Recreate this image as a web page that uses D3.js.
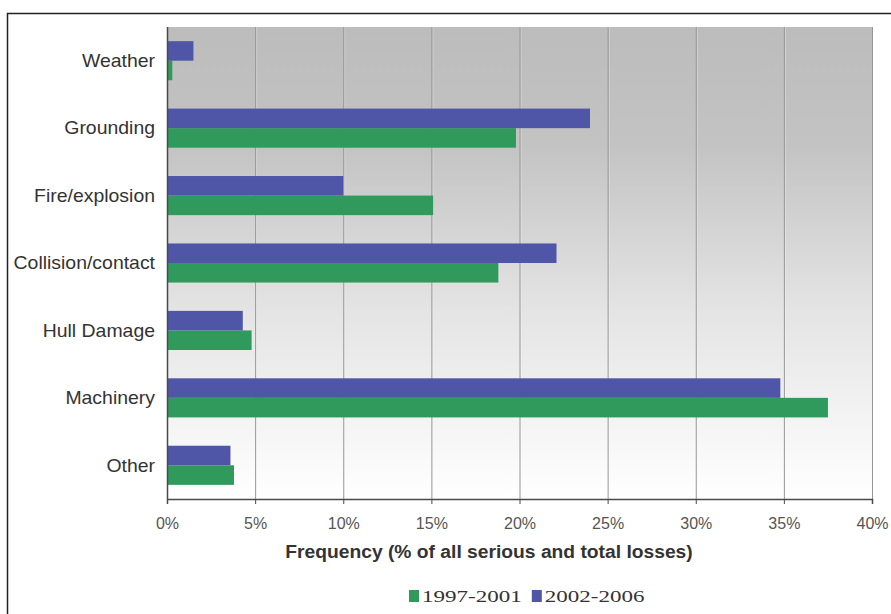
<!DOCTYPE html>
<html>
<head>
<meta charset="utf-8">
<script src="https://cdn.jsdelivr.net/npm/d3@7"></script>
<style>
  html, body { margin: 0; padding: 0; background: #fff; }
  svg { display: block; }
</style>
</head>
<body>
<svg id="chart" width="891" height="614"></svg>
<script>
// Causes of serious and total losses, share of all cases (%)
const categories = ["Weather", "Grounding", "Fire/explosion", "Collision/contact", "Hull Damage", "Machinery", "Other"];
const seriesNames = ["1997-2001", "2002-2006"];
const values1997 = [0.3, 19.8, 15.1, 18.8, 4.8, 37.5, 3.8];
const values2002 = [1.5, 24.0, 10.0, 22.1, 4.3, 34.8, 3.6];
const tickValues = [0, 5, 10, 15, 20, 25, 30, 35, 40];
const axisTitle = "Frequency (% of all serious and total losses)";

const colors = { "1997-2001": "#2f9a5b", "2002-2006": "#5056a7" };
const sans = "Liberation Sans, Arial, sans-serif";
const serif = "Liberation Serif, Times New Roman, serif";

const svg = d3.select("#chart");
const W = 891, H = 614;
const plot = { left: 167, right: 872, top: 27, bottom: 499 };

// outer frame
svg.append("rect")
  .attr("x", 7.5).attr("y", 13.5)
  .attr("width", W + 10).attr("height", H + 10)
  .attr("fill", "#fff").attr("stroke", "#222").attr("stroke-width", 1.5);

// plot background gradient (grey at top fading to white)
const defs = svg.append("defs");
const grad = defs.append("linearGradient").attr("id", "bg")
  .attr("x1", 0).attr("y1", 0).attr("x2", 0).attr("y2", 1);
grad.append("stop").attr("offset", "0%").attr("stop-color", "#bcbcbc");
grad.append("stop").attr("offset", "25%").attr("stop-color", "#c3c3c3");
grad.append("stop").attr("offset", "60%").attr("stop-color", "#e4e4e4");
grad.append("stop").attr("offset", "100%").attr("stop-color", "#ffffff");

svg.append("rect")
  .attr("x", plot.left).attr("y", plot.top)
  .attr("width", plot.right - plot.left).attr("height", plot.bottom - plot.top)
  .attr("fill", "url(#bg)");

const x = d3.scaleLinear().domain([0, 40]).range([plot.left, plot.right]);
const y = d3.scaleBand().domain(categories)
  .range([plot.top, plot.bottom]).paddingInner(0.42).paddingOuter(0.21);
const ySub = d3.scaleBand().domain(["2002-2006", "1997-2001"])
  .range([0, y.bandwidth()]);

// vertical gridlines with a faint highlight
const grid = svg.append("g");
tickValues.filter(v => v > 0).forEach(v => {
  grid.append("line")
    .attr("x1", x(v) + 1.5).attr("x2", x(v) + 1.5)
    .attr("y1", plot.top).attr("y2", plot.bottom)
    .attr("stroke", "#ffffff").attr("stroke-opacity", 0.35).attr("stroke-width", 1);
  grid.append("line")
    .attr("x1", x(v) + 0.5).attr("x2", x(v) + 0.5)
    .attr("y1", plot.top).attr("y2", plot.bottom)
    .attr("stroke", "#969696").attr("stroke-width", 1);
});

// bars
const rows = categories.map((c, i) => ({ cat: c, "1997-2001": values1997[i], "2002-2006": values2002[i] }));
const groups = svg.append("g").selectAll("g").data(rows).join("g")
  .attr("transform", d => `translate(0,${y(d.cat)})`);
groups.selectAll("rect")
  .data(d => seriesNames.map(s => ({ s, v: d[s] })))
  .join("rect")
  .attr("x", x(0))
  .attr("y", d => ySub(d.s))
  .attr("width", d => x(d.v) - x(0))
  .attr("height", ySub.bandwidth())
  .attr("fill", d => colors[d.s]);

// x axis
const xAxis = d3.axisBottom(x).tickValues(tickValues).tickFormat(d => d + "%")
  .tickSize(5).tickPadding(14);
const gx = svg.append("g").attr("transform", `translate(0,${plot.bottom})`).call(xAxis);
gx.select(".domain").attr("stroke", "#4a4a4a").attr("stroke-width", 1.5);
gx.selectAll(".tick line").attr("stroke", "#4a4a4a");
gx.selectAll(".tick text")
  .attr("font-family", sans)
  .attr("font-size", 16).attr("fill", "#555");

// y axis line
svg.append("line")
  .attr("x1", plot.left + 0.5).attr("x2", plot.left + 0.5)
  .attr("y1", plot.top).attr("y2", plot.bottom)
  .attr("stroke", "#4a4a4a").attr("stroke-width", 1.5);

// category labels (slightly widened type)
svg.append("g").selectAll("text").data(categories).join("text")
  .attr("transform", d => `translate(155,${y(d) + y.bandwidth() / 2}) scale(1.08,1)`)
  .attr("dy", "0.35em")
  .attr("text-anchor", "end")
  .attr("font-family", sans)
  .attr("font-size", 18)
  .attr("fill", "#333")
  .text(d => d);

// axis title
svg.append("text")
  .attr("transform", "translate(489,552) scale(1.07,1)")
  .attr("dy", "0.35em")
  .attr("text-anchor", "middle")
  .attr("font-family", sans)
  .attr("font-size", 18).attr("font-weight", "bold")
  .attr("fill", "#333")
  .text(axisTitle);

// legend
const legend = svg.append("g").attr("transform", "translate(409,596)");
let lx = 0;
seriesNames.forEach(s => {
  legend.append("rect").attr("x", lx).attr("y", -6).attr("width", 10).attr("height", 12)
    .attr("fill", colors[s]);
  const t = legend.append("text")
    .attr("transform", `translate(${lx + 13},0) scale(1.44,1)`)
    .attr("dy", "0.35em")
    .attr("font-family", serif)
    .attr("font-size", 16).attr("fill", "#333").text(s);
  lx += 13 + t.node().getComputedTextLength() * 1.44 + 10;
});
</script>
</body>
</html>
